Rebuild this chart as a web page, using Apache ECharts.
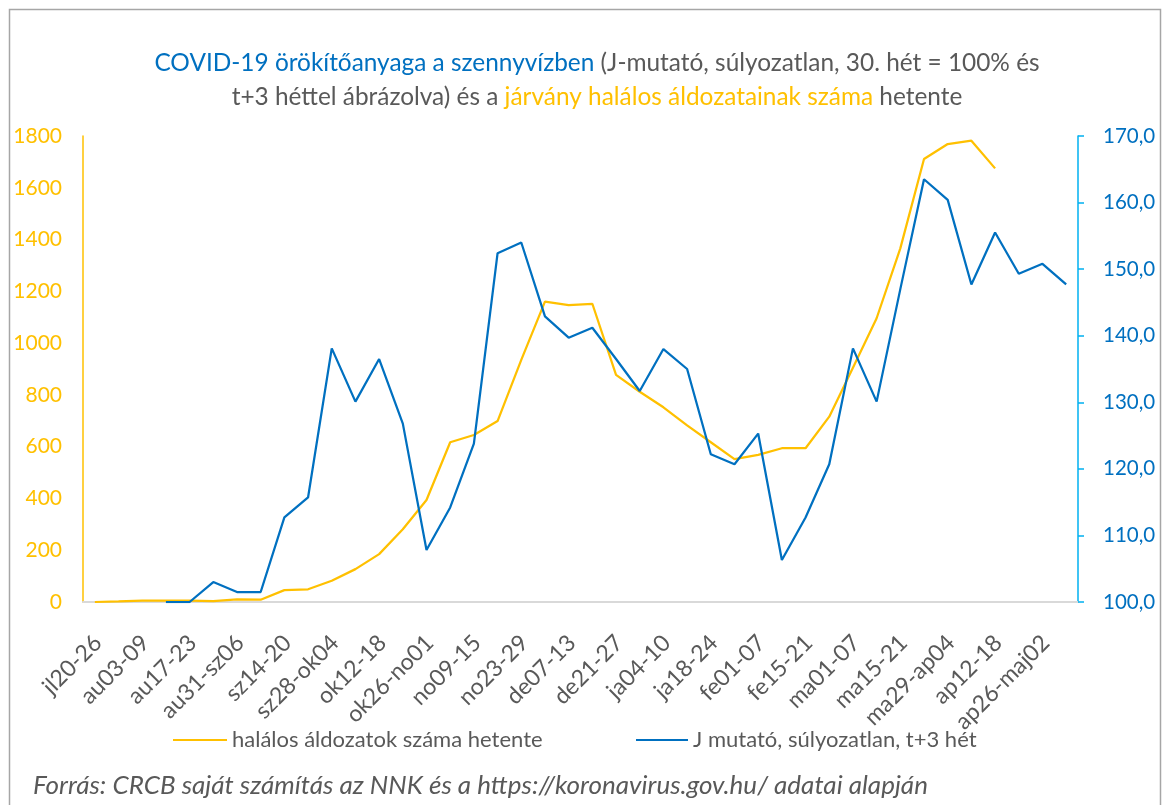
<!DOCTYPE html>
<html>
<head>
<meta charset="utf-8">
<script src="https://cdn.jsdelivr.net/npm/echarts@6/dist/echarts.min.js"></script>
<style>
html,body{margin:0;padding:0;background:#fff;}
#chart{width:1164px;height:805px;}
</style>
</head>
<body>
<div id="chart"></div>
<script>
var categories = ['jl20-26','jl27-au02','au03-09','au10-16','au17-23','au24-30','au31-sz06','sz07-13','sz14-20','sz21-27',
  'sz28-ok04','ok05-11','ok12-18','ok19-25','ok26-no01','no02-08','no09-15','no16-22','no23-29','no30-de06',
  'de07-13','de14-20','de21-27','de28-ja03','ja04-10','ja11-17','ja18-24','ja25-31','fe01-07','fe08-14',
  'fe15-21','fe22-28','ma01-07','ma08-14','ma15-21','ma22-28','ma29-ap04','ap05-11','ap12-18','ap19-25',
  'ap26-maj02','maj03-09'];

var deaths = [0,2,5,5,5,3,10,9,46,49,
  82,127,185,281,394,617,645,699,935,1160,
  1147,1152,877,812,752,682,617,552,568,594,
  594,716,905,1096,1366,1711,1769,1782,1675,null,
  null,null];

var jIndex = [null,null,null,100.0,100.0,103.0,101.5,101.5,112.7,115.7,
  138.1,130.1,136.5,126.8,107.8,114.2,123.8,152.4,154.0,142.9,
  139.7,141.2,136.5,131.7,138.0,135.0,122.2,120.7,125.3,106.3,
  112.7,120.7,138.1,130.1,147.0,163.5,160.4,147.7,155.5,149.3,
  150.8,147.7];

var leftTicks = {min:0, max:1800, interval:200};
var rightTicks = {min:100, max:170, interval:10};

var seriesNames = ['halálos áldozatok száma hetente','J mutató, súlyozatlan, t+3 hét'];

var FONT = 'Lato';
var GRAY = '#595959';
var YEL = '#FFC000';
var BLUE = '#0070C0';

var chart = echarts.init(document.getElementById('chart'), null, {renderer:'canvas'});
chart.setOption({
  backgroundColor:'#fff',
  animation:false,
  textStyle:{fontFamily:FONT},
  graphic:[{
    type:'rect', shape:{x:9.5,y:9.5,width:1151,height:820},
    style:{fill:'none', stroke:'#A6A6A6', lineWidth:1.5}, silent:true
  },{
    type:'text', left:33, top:773,
    style:{text:'Forrás: CRCB saját számítás az NNK és a https://koronavirus.gov.hu/ adatai alapján',
      font:'italic 26px '+FONT, fill:GRAY}
  }],
  title:{
    left:592, top:41, textAlign:'center',
    text:'{b|COVID-19 örökítőanyaga a szennyvízben}{g| (J-mutató, súlyozatlan, 30. hét = 100% és}\n{g|t+3 héttel ábrázolva) és a }{y|járvány halálos áldozatainak száma}{g| hetente}',
    textStyle:{
      fontFamily:FONT, fontSize:24.4, fontWeight:'normal', lineHeight:34,
      rich:{
        b:{color:BLUE, fontSize:24.4, fontFamily:FONT, lineHeight:34},
        g:{color:GRAY, fontSize:24.4, fontFamily:FONT, lineHeight:34},
        y:{color:YEL, fontSize:24.4, fontFamily:FONT, lineHeight:34}
      }
    }
  },
  legend:[{
    data:[seriesNames[0]], left:168, top:724, itemWidth:54, itemHeight:2, icon:'rect',
    textStyle:{color:GRAY, fontSize:22, fontFamily:FONT}
  },{
    data:[seriesNames[1]], left:631, top:724, itemWidth:52, itemHeight:2, icon:'rect',
    textStyle:{color:GRAY, fontSize:22, fontFamily:FONT}
  }],
  grid:{left:83, right:86, top:136, bottom:203, containLabel:false},
  xAxis:{
    type:'category', data:categories, boundaryGap:true,
    axisLine:{show:true, lineStyle:{color:'#D9D9D9', width:2}},
    axisTick:{show:false},
    axisLabel:{interval:1, rotate:45, color:GRAY, fontSize:23, fontFamily:FONT, margin:24,
      align:'right', verticalAlign:'top', padding:[0,7,0,0]}
  },
  yAxis:[{
    type:'value', position:'left', min:leftTicks.min, max:leftTicks.max, interval:leftTicks.interval,
    axisLine:{show:true, lineStyle:{color:YEL, width:1.5}},
    axisTick:{show:false},
    splitLine:{show:false},
    axisLabel:{color:YEL, fontSize:21, fontFamily:FONT, margin:21,
      formatter:function(v){return String(v);}}
  },{
    type:'value', position:'right', min:rightTicks.min, max:rightTicks.max, interval:rightTicks.interval,
    axisLine:{show:true, lineStyle:{color:'#00B0F0', width:1.5}},
    axisTick:{show:true, length:6, lineStyle:{color:'#00B0F0', width:1.5}},
    splitLine:{show:false},
    axisLabel:{color:BLUE, fontSize:20.5, fontFamily:FONT, margin:25,
      formatter:function(v){return v.toFixed(1).replace('.',',');}}
  }],
  series:[{
    name:seriesNames[0], type:'line', yAxisIndex:0, data:deaths,
    symbol:'none', connectNulls:false,
    lineStyle:{color:YEL, width:2.25}, itemStyle:{color:YEL}
  },{
    name:seriesNames[1], type:'line', yAxisIndex:1, data:jIndex,
    symbol:'none', connectNulls:false,
    lineStyle:{color:BLUE, width:2.25}, itemStyle:{color:BLUE}
  }]
});
</script>
</body>
</html>
